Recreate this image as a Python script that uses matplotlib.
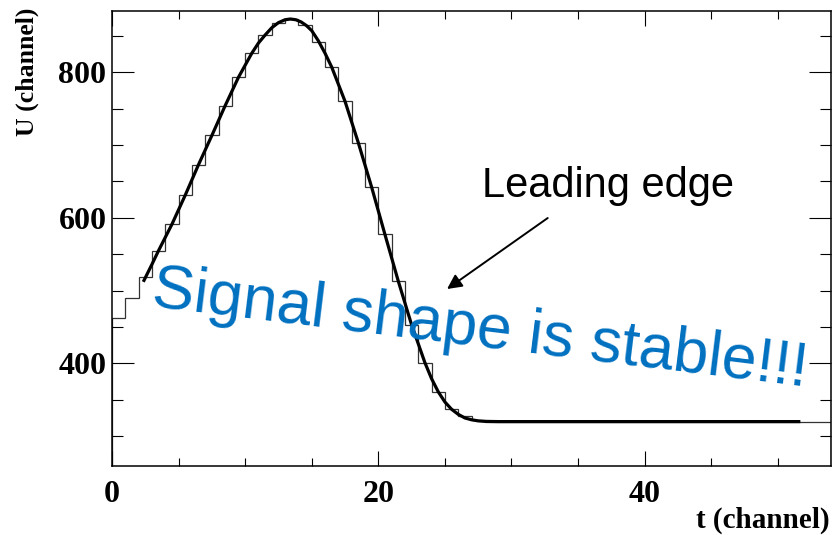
import numpy as np
import matplotlib
matplotlib.use('Agg')
import matplotlib.pyplot as plt
from matplotlib.ticker import MultipleLocator

###############################################################################
# Data
###############################################################################
# histogram contents, one bin per channel (t = 0..54)
hist_edges = np.arange(0, 55)
hist_vals = [462, 490, 519, 555, 591, 631, 673, 713, 754, 793,
             826, 851, 867, 873, 865, 842, 807, 760, 703, 642,
             577, 513, 453, 400, 361, 337, 328, 322, 320, 320,
             320, 320, 320, 320, 320, 320, 320, 320, 320, 320,
             320, 320, 320, 320, 320, 320, 320, 320, 320, 320,
             320, 320, 320, 320]

# fitted signal shape
fit_t = [2.35, 3.0, 3.5, 4.5, 5.5, 6.5, 7.5, 8.5, 9.5, 10.5, 11.0, 11.5,
         12.0, 12.5, 13.0, 13.4, 13.8, 14.2, 14.6, 15.0, 15.5, 16.0, 16.5,
         17.5, 18.5, 19.5, 20.5, 21.5, 22.5, 23.5, 24.0, 24.5, 25.0, 25.5,
         26.0, 26.5, 27.0, 27.5, 28.0, 29.0, 51.7]
fit_u = [512, 536, 555, 591, 631, 673, 713, 754, 793, 826, 840, 851,
         861, 868, 872, 873, 872, 869, 864, 857, 843, 826, 807,
         760, 703, 642, 577, 513, 453, 401, 379, 361, 347, 337,
         330, 325, 322.5, 321, 320.3, 320, 320]

###############################################################################
# Figure
###############################################################################
fig = plt.figure(figsize=(8.36, 5.35), dpi=100)
ax = fig.add_axes([112/836, 69/535, 719/836, 455/535])

ax.stairs(hist_vals, hist_edges, color='#333333', lw=0.9)
ax.plot(fit_t, fit_u, color='black', lw=2.3, solid_joinstyle='round',
        solid_capstyle='butt')

ax.set_xlim(0, 54)
ax.set_ylim(259, 884)

ax.xaxis.set_major_locator(MultipleLocator(20))
ax.xaxis.set_minor_locator(MultipleLocator(5))
ax.yaxis.set_major_locator(MultipleLocator(200))
ax.yaxis.set_minor_locator(MultipleLocator(50))

ax.tick_params(axis='x', which='major', direction='in', length=11, width=0.8,
               top=True, pad=10)
ax.tick_params(axis='x', which='minor', direction='in', length=6, width=0.8,
               top=True)
ax.tick_params(axis='y', which='major', direction='in', length=16, width=0.8,
               right=True, pad=4)
ax.tick_params(axis='y', which='minor', direction='in', length=8, width=0.8,
               right=True)

for sp in ax.spines.values():
    sp.set_linewidth(1.1)

tick_font = dict(family='Liberation Serif', weight='bold', size=23)
for lab in ax.get_xticklabels() + ax.get_yticklabels():
    lab.set_fontfamily('Liberation Serif')
    lab.set_fontweight('bold')
    lab.set_fontsize(23)

fig.text(830/836, 1 - 520/535, 't (channel)', ha='right', va='center',
         family='Liberation Serif', weight='bold', size=21)
fig.text(27/836, 1 - 8/535, 'U (channel)', ha='center', va='top',
         rotation=90, family='Liberation Serif', weight='bold', size=18.5)

# annotations
ax.text(0.515, 0.592, 'Leading edge', transform=ax.transAxes,
        family='Liberation Sans', size=30, ha='left', va='baseline')
ax.annotate('', xy=(0.466, 0.389), xytext=(0.606, 0.545),
            xycoords='axes fraction', textcoords='axes fraction',
            arrowprops=dict(arrowstyle='-|>', color='black', lw=1.4,
                            mutation_scale=22, shrinkA=0, shrinkB=0))
ax.text(0.053, 0.352, 'Signal shape is stable!!!', transform=ax.transAxes,
        family='Liberation Sans', size=45, color='#0070C0',
        rotation=-7, rotation_mode='anchor', ha='left', va='baseline')

fig.savefig('out.png', dpi=100)
